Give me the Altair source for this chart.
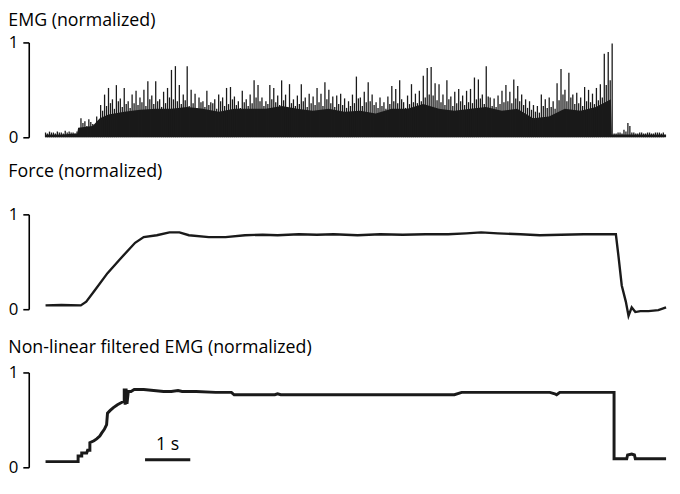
import altair as alt
import pandas as pd

# ---------------- data (time in seconds, values normalized) ----------------
EMG_DT = 0.087  # sample spacing of the peak envelope (s)
emg_peaks = [
    0.05, 0.06, 0.05, 0.06, 0.05, 0.07, 0.06, 0.05, 0.06,
    0.20, 0.17, 0.19, 0.14, 0.22,
    0.34, 0.45, 0.52, 0.40, 0.55, 0.41, 0.52, 0.38, 0.45, 0.49,
    0.42, 0.50, 0.59, 0.44, 0.59, 0.40, 0.48, 0.52, 0.71, 0.75,
    0.55, 0.45, 0.75, 0.50, 0.46, 0.42, 0.38, 0.49, 0.37, 0.40,
    0.45, 0.42, 0.52, 0.53, 0.43, 0.38, 0.49, 0.40, 0.45, 0.60,
    0.55, 0.42, 0.38, 0.55, 0.52, 0.44, 0.60, 0.45, 0.56, 0.40,
    0.44, 0.56, 0.42, 0.46, 0.43, 0.52, 0.46, 0.58, 0.50, 0.43,
    0.44, 0.46, 0.41, 0.38, 0.45, 0.64, 0.42, 0.48, 0.58, 0.45,
    0.37, 0.42, 0.37, 0.43, 0.54, 0.51, 0.60, 0.37, 0.44, 0.56,
    0.46, 0.49, 0.65, 0.73, 0.74, 0.57, 0.56, 0.45, 0.60, 0.43,
    0.48, 0.51, 0.44, 0.49, 0.51, 0.63, 0.61, 0.45, 0.75, 0.42,
    0.41, 0.44, 0.49, 0.55, 0.48, 0.61, 0.54, 0.45, 0.40, 0.38,
    0.34, 0.33, 0.45, 0.40, 0.42, 0.38, 0.57, 0.72, 0.50, 0.68,
    0.45, 0.47, 0.42, 0.53, 0.50, 0.46, 0.52, 0.56, 0.88, 0.90,
    0.99, 0.04, 0.05, 0.08, 0.15, 0.05, 0.04, 0.05, 0.04, 0.05,
    0.04, 0.05, 0.05, 0.05,
]
# medium spikes lying between the peak samples (half a sample later)
emg_mid = [
    0.04, 0.05, 0.04, 0.05, 0.04, 0.05, 0.05, 0.04, 0.05,
    0.15, 0.12, 0.16, 0.13, 0.18,
    0.28, 0.33, 0.36, 0.30, 0.38, 0.32, 0.35, 0.31, 0.36, 0.34,
    0.37, 0.33, 0.40, 0.35, 0.38, 0.32, 0.36, 0.42, 0.40, 0.38,
    0.35, 0.39, 0.33, 0.36, 0.31, 0.37, 0.32, 0.34, 0.36, 0.30,
    0.38, 0.33, 0.35, 0.40, 0.34, 0.31, 0.37, 0.33, 0.36, 0.42,
    0.38, 0.33, 0.35, 0.40, 0.37, 0.34, 0.39, 0.32, 0.36, 0.33,
    0.35, 0.38, 0.32, 0.36, 0.34, 0.37, 0.33, 0.40, 0.36, 0.32,
    0.35, 0.34, 0.31, 0.33, 0.36, 0.41, 0.33, 0.37, 0.38, 0.34,
    0.31, 0.33, 0.30, 0.35, 0.38, 0.36, 0.40, 0.31, 0.35, 0.37,
    0.36, 0.38, 0.42, 0.45, 0.44, 0.39, 0.37, 0.34, 0.40, 0.33,
    0.36, 0.38, 0.34, 0.37, 0.36, 0.40, 0.41, 0.35, 0.43, 0.33,
    0.32, 0.35, 0.37, 0.38, 0.36, 0.41, 0.38, 0.34, 0.31, 0.29,
    0.27, 0.26, 0.33, 0.31, 0.32, 0.30, 0.39, 0.45, 0.38, 0.42,
    0.35, 0.36, 0.33, 0.38, 0.37, 0.35, 0.39, 0.42, 0.55, 0.60,
    0.04, 0.05, 0.04, 0.06, 0.12, 0.05, 0.04, 0.05, 0.04, 0.05,
    0.04, 0.05, 0.04,
]

emg_body_t = [0.0, 0.35, 0.70, 0.72, 1.04, 1.20, 1.39, 1.74, 2.09, 2.43, 2.78, 3.13,
              3.48, 3.83, 4.17, 4.52, 4.87, 5.22, 5.57, 5.91, 6.26, 6.61,
              6.96, 7.30, 7.65, 8.00, 8.35, 8.70, 9.04, 9.39, 9.74, 10.09,
              10.43, 10.78, 11.13, 11.48, 11.83, 12.17, 12.50, 12.52, 12.87,
              13.22, 13.72]
emg_body_v = [0.03, 0.03, 0.04, 0.10, 0.12, 0.20, 0.24, 0.27, 0.29, 0.30, 0.30, 0.32,
              0.30, 0.27, 0.30, 0.30, 0.30, 0.33, 0.30, 0.28, 0.30, 0.27,
              0.28, 0.25, 0.30, 0.30, 0.35, 0.30, 0.28, 0.30, 0.32, 0.28,
              0.30, 0.20, 0.22, 0.30, 0.28, 0.32, 0.40, 0.03, 0.03,
              0.03, 0.03]

force_t = [0.0, 0.35, 0.78, 0.90, 1.09, 1.37, 1.65, 1.98, 2.17, 2.46, 2.74, 2.96,
           3.17, 3.61, 3.98, 4.41, 4.80, 5.13, 5.60, 6.00, 6.37, 6.90, 7.40,
           7.90, 8.40, 8.90, 9.30, 9.63, 10.00, 10.50, 10.93, 11.40, 11.90,
           12.30, 12.52, 12.61, 12.67, 12.74, 12.83, 12.89, 12.96, 13.04,
           13.15, 13.33, 13.55, 13.72]
force_v = [0.04, 0.045, 0.04, 0.08, 0.20, 0.38, 0.53, 0.70, 0.76, 0.78, 0.81, 0.81,
           0.78, 0.76, 0.76, 0.78, 0.785, 0.78, 0.79, 0.785, 0.79, 0.78, 0.79,
           0.785, 0.79, 0.79, 0.80, 0.81, 0.80, 0.79, 0.78, 0.785, 0.79,
           0.79, 0.79, 0.79, 0.55, 0.25, 0.08, -0.07, 0.02, -0.03,
           -0.02, -0.02, -0.01, 0.02]

filt_t = [0.0, 0.72, 0.72, 0.80, 0.80, 0.91, 0.93, 0.98, 0.98, 1.07, 1.13, 1.20,
          1.24, 1.30, 1.35, 1.37, 1.43, 1.50, 1.59, 1.67, 1.74, 1.74, 1.76,
          1.78, 1.80, 1.83, 1.89, 1.96, 2.17, 2.39, 2.61, 2.78, 2.93, 3.02,
          3.33, 3.76, 4.11, 4.17, 5.07, 5.13, 5.20, 6.37, 9.04, 9.20, 11.15,
          11.26, 11.30, 11.37, 12.57, 12.57, 12.85, 12.87, 12.96, 13.02,
          13.04, 13.72]
filt_v = [0.06, 0.06, 0.12, 0.12, 0.15, 0.15, 0.18, 0.18, 0.26, 0.28, 0.30, 0.33,
          0.36, 0.40, 0.45, 0.57, 0.60, 0.63, 0.66, 0.68, 0.70, 0.83, 0.66,
          0.83, 0.67, 0.80, 0.80, 0.82, 0.82, 0.81, 0.80, 0.80, 0.81, 0.80,
          0.80, 0.79, 0.79, 0.765, 0.765, 0.775, 0.765, 0.765, 0.765, 0.79, 0.79,
          0.775, 0.765, 0.79, 0.79, 0.09, 0.09, 0.13, 0.14, 0.13,
          0.09, 0.09]

scalebar_start = [2.2]
scalebar_end = [3.2]
scalebar_level = [0.08]
scalebar_label = ["1 s"]

titles = ["EMG (normalized)", "Force (normalized)",
          "Non-linear filtered EMG (normalized)"]
y_ticks = [0, 1]

# ---------------- chart ----------------
FONT = "Open Sans"
W, H = 628, 96
T_DOMAIN = [0, 13.72]
INK = "#1a1a1a"

xs = alt.Scale(domain=T_DOMAIN, nice=False, zero=False)
ys = alt.Scale(domain=[0, 1], nice=False, zero=False)
yaxis = alt.Axis(values=y_ticks, format="d", title=None, grid=False, offset=17,
                 tickSize=6, labelPadding=5, labelFontSize=17, labelFont=FONT,
                 labelColor="black", domainColor="black", tickColor="black",
                 domainWidth=1.6, tickWidth=1.6, labelAngle=0)


def make_title(text, offset):
    return alt.TitleParams(text=text, anchor="start", frame="bounds",
                           fontSize=18, font=FONT, fontWeight="normal",
                           color="black", offset=offset)


emg_df = pd.DataFrame({"t": [i * EMG_DT for i in range(len(emg_peaks))],
                       "v": emg_peaks})
mid_df = pd.DataFrame({"t": [(i + 0.5) * EMG_DT for i in range(len(emg_mid))],
                       "v": emg_mid})
body_df = pd.DataFrame({"t": emg_body_t, "v": emg_body_v})

body = alt.Chart(body_df).mark_area(color=INK, opacity=1).encode(
    x=alt.X("t:Q", scale=xs, axis=None),
    y=alt.Y("v:Q", scale=ys, axis=yaxis),
    y2=alt.datum(0),
)
spikes = alt.Chart(emg_df).mark_rule(color=INK, strokeWidth=1.3).encode(
    x=alt.X("t:Q", scale=xs, axis=None),
    y=alt.Y("v:Q", scale=ys, axis=yaxis),
    y2=alt.datum(0),
)
mids = alt.Chart(mid_df).mark_rule(color=INK, strokeWidth=1.3).encode(
    x=alt.X("t:Q", scale=xs, axis=None),
    y=alt.Y("v:Q", scale=ys, axis=yaxis),
    y2=alt.datum(0),
)
p1 = alt.layer(body, mids, spikes).properties(
    width=W, height=H, title=make_title(titles[0], 4))

force_df = pd.DataFrame({"t": force_t, "v": force_v})
p2 = alt.Chart(force_df).mark_line(color=INK, strokeWidth=2.4).encode(
    x=alt.X("t:Q", scale=xs, axis=None),
    y=alt.Y("v:Q", scale=ys, axis=yaxis),
    order="idx:Q",
).transform_window(idx="row_number()").properties(
    width=W, height=H, title=make_title(titles[1], 25))

filt_df = pd.DataFrame({"t": filt_t, "v": filt_v})
filt_line = alt.Chart(filt_df).transform_window(idx="row_number()").mark_line(
    color=INK, strokeWidth=3).encode(
    x=alt.X("t:Q", scale=xs, axis=None),
    y=alt.Y("v:Q", scale=ys, axis=yaxis),
    order="idx:Q",
)
sb_df = pd.DataFrame({"t0": scalebar_start, "t1": scalebar_end,
                      "lv": scalebar_level, "lab": scalebar_label})
sb_rule = alt.Chart(sb_df).mark_rule(color=INK, strokeWidth=3).encode(
    x=alt.X("t0:Q", scale=xs, axis=None), x2="t1:Q",
    y=alt.Y("lv:Q", scale=ys, axis=yaxis),
)
sb_text = alt.Chart(sb_df).transform_calculate(
    tm="(datum.t0 + datum.t1) / 2").mark_text(
    font=FONT, fontSize=18, color="black", baseline="bottom", dy=-6).encode(
    x=alt.X("tm:Q", scale=xs, axis=None),
    y=alt.Y("lv:Q", scale=ys, axis=yaxis),
    text="lab:N",
)
p3 = alt.layer(filt_line, sb_rule, sb_text).properties(
    width=W, height=H, title=make_title(titles[2], 7))

chart = alt.vconcat(p1, p2, p3, spacing=18).properties(
    padding={"left": 0, "top": 1, "right": 0, "bottom": 2}
).configure_view(stroke=None).configure_concat(spacing=18)

chart.save("out.html", embed_options={"renderer": "svg", "actions": False})
